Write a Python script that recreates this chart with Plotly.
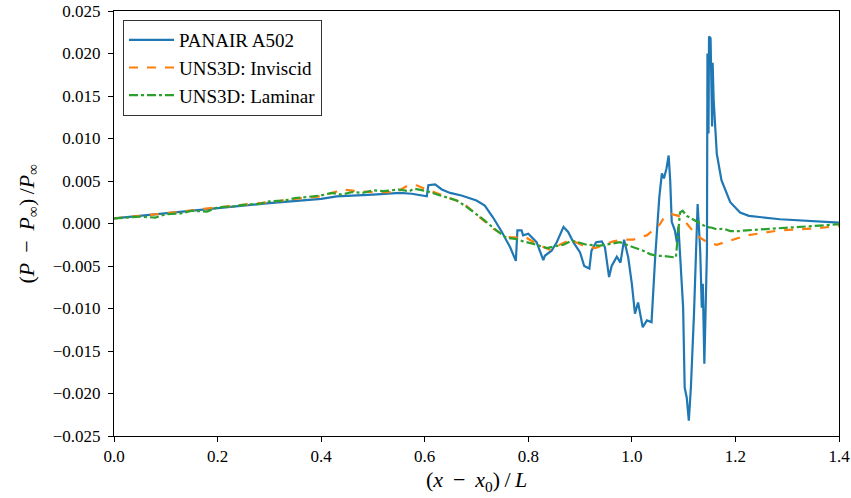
import plotly.graph_objects as go

# PANAIR A502
bx = [0.0,0.1,0.2,0.3,0.4,0.43,0.5,0.552,0.575,0.5845,0.597,0.604,0.607,0.620,0.633,
      0.649,0.671,0.687,0.700,0.716,0.732,0.749,0.765,0.776,0.779,0.787,0.790,0.800,0.816,0.829,
      0.832,0.845,0.855,0.868,0.877,0.887,0.900,0.908,0.918,0.922,0.931,0.942,0.948,0.956,0.961,
      0.971,0.978,0.985,0.993,1.000,1.006,1.012,1.021,1.029,1.038,1.045,1.053,1.058,1.062,1.067,
      1.071,1.074,1.077,1.083,1.087,1.090,1.093,1.099,1.102,1.106,1.110,1.114,1.120,1.127,1.132,
      1.135,1.137,1.140,1.145,1.146,1.148,1.149,1.152,1.155,1.156,1.158,1.164,1.173,1.190,1.209,
      1.226,1.286,1.4]
by = [0.0006,0.0012,0.0018,0.0024,0.0029,0.0032,0.0034,0.0036,0.0035,0.0034,0.0032,0.0032,0.0045,0.0046,0.0040,
      0.0036,0.0033,0.0030,0.0027,0.0021,0.0007,-0.0010,-0.0028,-0.0044,-0.0008,-0.0008,-0.0014,-0.0012,-0.0022,-0.0043,
      -0.0038,-0.0032,-0.0022,-0.0004,-0.0010,-0.0022,-0.0034,-0.0050,-0.0053,-0.0032,-0.0022,-0.0021,-0.0028,-0.0063,-0.0050,
      -0.0039,-0.0046,-0.0019,-0.0040,-0.0071,-0.0106,-0.0093,-0.0122,-0.0114,-0.0116,-0.0040,0.0031,0.0059,0.0053,0.0065,
      0.0080,0.0051,0.0002,-0.0008,-0.0022,-0.0004,-0.0032,-0.0099,-0.0193,-0.0205,-0.0232,-0.0193,-0.0106,0.0023,-0.0032,
      -0.0099,-0.0071,-0.0165,-0.0032,0.0200,0.0106,0.0220,0.0218,0.0114,0.0189,0.0145,0.0082,0.0051,0.0025,0.0013,
      0.0009,0.0005,0.0001]

# UNS3D: Inviscid
ox = [0.0,0.1,0.2,0.25,0.3,0.35,0.4,0.442,0.47,0.5,0.546,0.568,0.584,0.6,0.642,0.674,0.707,0.732,0.758,0.797,
      0.816,0.842,0.864,0.881,0.906,0.929,0.964,0.983,1.003,1.016,1.029,1.041,1.054,1.061,1.077,1.090,1.106,1.125,
      1.148,1.164,1.190,1.222,1.286,1.35,1.4]
oy = [0.0006,0.0012,0.0019,0.0022,0.0025,0.0029,0.0032,0.0040,0.0038,0.0037,0.0037,0.0045,0.0045,0.0041,0.0031,0.0024,0.0007,-0.0006,-0.0016,-0.0017,
      -0.0024,-0.0031,-0.0024,-0.0019,-0.0026,-0.0029,-0.0021,-0.0019,-0.0019,-0.0016,-0.0014,-0.0008,-0.0001,0.0006,0.0011,0.0009,0.0000,-0.0014,
      -0.0023,-0.0025,-0.0020,-0.0014,-0.0008,-0.0006,-0.0003]

# UNS3D: Laminar
gx = [0.0,0.03,0.05,0.08,0.1,0.13,0.15,0.18,0.2,0.23,0.25,0.28,0.3,0.33,0.35,0.37,0.4,0.42,0.44,0.46,
      0.48,0.5,0.52,0.55,0.57,0.58,0.604,0.63,0.662,0.68,0.700,0.715,0.732,0.758,0.775,0.790,0.81,0.836,0.85,0.868,
      0.884,0.9,0.913,0.938,0.96,0.977,1.003,1.022,1.035,1.048,1.06,1.074,1.085,1.088,1.093,1.098,1.106,1.115,1.125,1.135,
      1.144,1.155,1.164,1.177,1.190,1.206,1.222,1.25,1.286,1.32,1.35,1.375,1.395,1.4]
gy = [0.0006,0.0007,0.0008,0.0007,0.0011,0.0012,0.0015,0.0014,0.0019,0.0020,0.0022,0.0023,0.0026,0.0027,0.0030,0.0031,0.0033,0.0036,0.0034,0.0037,
      0.0036,0.0039,0.0038,0.0040,0.0038,0.0041,0.0038,0.0033,0.0027,0.0020,0.0011,0.0004,-0.0005,-0.0017,-0.0018,-0.0021,-0.0024,-0.0029,-0.0027,-0.0025,
      -0.0020,-0.0023,-0.0025,-0.0026,-0.0024,-0.0022,-0.0028,-0.0032,-0.0036,-0.0038,-0.0038,-0.0039,-0.0040,-0.0020,0.0013,0.0015,0.0009,0.0006,0.0002,-0.0001,
      -0.0004,-0.0005,-0.0007,-0.0006,-0.0009,-0.0009,-0.0008,-0.0007,-0.0006,-0.0004,-0.0003,-0.0002,-0.0001,-0.0001]

xticks = [0.0, 0.2, 0.4, 0.6, 0.8, 1.0, 1.2, 1.4]
yticks = [0.025, 0.020, 0.015, 0.010, 0.005, 0.000, -0.005, -0.010, -0.015, -0.020, -0.025]

FONT = "Liberation Serif"

fig = go.Figure()
fig.add_trace(go.Scatter(x=bx, y=by, mode="lines", name="PANAIR A502",
                         line=dict(color="#1f77b4", width=2.2)))
fig.add_trace(go.Scatter(x=ox, y=oy, mode="lines", name="UNS3D: Inviscid",
                         line=dict(color="#ff7f0e", width=2.2, dash="dash")))
fig.add_trace(go.Scatter(x=gx, y=gy, mode="lines", name="UNS3D: Laminar",
                         line=dict(color="#2ca02c", width=2.2, dash="dashdot")))

axis_common = dict(showgrid=False, zeroline=False, showline=True, linecolor="black",
                   linewidth=1, mirror=True, ticks="outside", ticklen=5, tickcolor="black",
                   automargin=False,
                   tickfont=dict(family=FONT, size=17, color="black"))

fig.update_xaxes(range=[0, 1.4], tickvals=xticks, tickformat=".1f", **axis_common)
fig.update_yaxes(range=[-0.025, 0.025], tickvals=yticks, tickformat=".3f",
                 ticklabelstandoff=4, **axis_common)

fig.add_annotation(text="(<i>x</i> \u2009−\u2009 <i>x</i><sub>0</sub>)\u2009/\u2009<i>L</i>",
                   xref="paper", yref="paper", x=0.5, y=-0.106,
                   xanchor="center", yanchor="middle", showarrow=False,
                   font=dict(family=FONT, size=22, color="black"))
fig.add_annotation(text="(<i>P</i> \u2009−\u2009 <i>P</i><sub>∞</sub>)\u2009/<i>P</i><sub>∞</sub>",
                   xref="paper", yref="paper", x=-0.12, y=0.5, textangle=-90,
                   xanchor="center", yanchor="middle", showarrow=False,
                   font=dict(family=FONT, size=22, color="black"))

fig.update_layout(
    width=851, height=498,
    margin=dict(l=114, r=12, t=11, b=62),
    plot_bgcolor="white", paper_bgcolor="white",
    font=dict(family=FONT, color="black"),
    legend=dict(x=0.0124, y=0.979, xanchor="left", yanchor="top",
                bgcolor="white", bordercolor="#333", borderwidth=1,
                itemwidth=45,
                font=dict(family=FONT, size=19, color="black"),
                tracegroupgap=0),
)

fig.write_html("out.html", config={"displayModeBar": False},
               post_script="document.body.style.margin='0';document.body.style.overflow='hidden';")
